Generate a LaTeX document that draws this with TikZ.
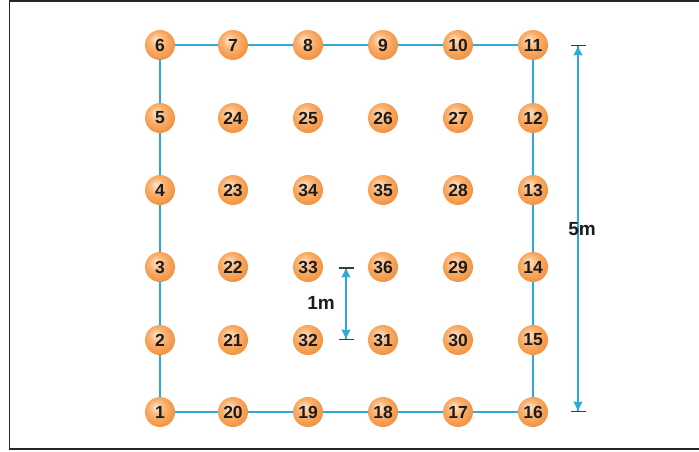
\documentclass[tikz,border=0pt]{standalone}
\usepackage{fontspec}
\setmainfont{Liberation Sans}
\usepackage{xcolor}
\usepackage{tikz}
\usetikzlibrary{arrows.meta}
\definecolor{pblue}{HTML}{2FA8DC}
\definecolor{pbody}{HTML}{1C1C1C}
\definecolor{pbar}{HTML}{3A3A3A}
\definecolor{ohi}{HTML}{FEE6CE}
\definecolor{omid}{HTML}{FBB373}
\definecolor{oedge}{HTML}{F59B4C}
\definecolor{odark}{HTML}{EC8B40}
\pgfdeclareradialshading{orb}{\pgfpoint{-7bp}{9bp}}{color(0bp)=(ohi); color(13bp)=(omid); color(24bp)=(oedge); color(32bp)=(odark); color(50bp)=(odark)}

\begin{document}
\begin{tikzpicture}[x=1pt, y=-1pt,
  spot/.style={circle, minimum size=30pt, inner sep=0pt, shading=orb,
               text=pbody, font=\bfseries\fontsize{17.5}{17.5}\selectfont},
  lbl/.style={text=pbody, font=\bfseries\fontsize{19}{19}\selectfont, inner sep=1pt},
  edge/.style={draw=pblue, line width=1.6pt},
  dim/.style={draw=pblue, line width=1.5pt,
              {Bar[width=15pt,line width=1.5pt,color=pbar]Stealth[length=9pt,width=9pt,inset=1pt]}-{Stealth[length=9pt,width=9pt,inset=1pt]Bar[width=15pt,line width=1.5pt,color=pbar]}},
  frame/.style={draw=black!85, line width=1.6pt}]
  \useasboundingbox (0,0) rectangle (699,452);
  \draw[frame] (9.5,1) rectangle (702,449);
  % --- top row
  \node[spot] (n6)  at (160,45)  {6};
  \node[spot] (n7)  at (233,45)  {7};
  \node[spot] (n8)  at (308,45)  {8};
  \node[spot] (n9)  at (383,45)  {9};
  \node[spot] (n10) at (458,45)  {10};
  \node[spot] (n11) at (533,45)  {11};
  % --- second row
  \node[spot] (n5)  at (160,118) {5};
  \node[spot] (n24) at (233,118) {24};
  \node[spot] (n25) at (308,118) {25};
  \node[spot] (n26) at (383,118) {26};
  \node[spot] (n27) at (458,118) {27};
  \node[spot] (n12) at (533,118) {12};
  % --- third row
  \node[spot] (n4)  at (160,190) {4};
  \node[spot] (n23) at (233,190) {23};
  \node[spot] (n34) at (308,190) {34};
  \node[spot] (n35) at (383,190) {35};
  \node[spot] (n28) at (458,190) {28};
  \node[spot] (n13) at (533,190) {13};
  % --- fourth row
  \node[spot] (n3)  at (160,267) {3};
  \node[spot] (n22) at (233,267) {22};
  \node[spot] (n33) at (308,267) {33};
  \node[spot] (n36) at (383,267) {36};
  \node[spot] (n29) at (458,267) {29};
  \node[spot] (n14) at (533,267) {14};
  % --- fifth row
  \node[spot] (n2)  at (160,340) {2};
  \node[spot] (n21) at (233,340) {21};
  \node[spot] (n32) at (308,340) {32};
  \node[spot] (n31) at (383,340) {31};
  \node[spot] (n30) at (458,340) {30};
  \node[spot] (n15) at (533,340) {15};
  % --- bottom row
  \node[spot] (n1)  at (160,412) {1};
  \node[spot] (n20) at (233,412) {20};
  \node[spot] (n19) at (308,412) {19};
  \node[spot] (n18) at (383,412) {18};
  \node[spot] (n17) at (458,412) {17};
  \node[spot] (n16) at (533,412) {16};
  % --- perimeter
  \draw[edge] (n1) -- (n20) -- (n19) -- (n18) -- (n17) -- (n16);
  \draw[edge] (n16) -- (n15) -- (n14) -- (n13) -- (n12) -- (n11);
  \draw[edge] (n11) -- (n10) -- (n9) -- (n8) -- (n7) -- (n6);
  \draw[edge] (n6) -- (n5) -- (n4) -- (n3) -- (n2) -- (n1);
  % --- dimensions
  \coordinate (bigA) at (578,45);
  \coordinate (bigB) at (578,412);
  \coordinate (smallA) at (346,267);
  \coordinate (smallB) at (346,340);
  \draw[dim] (bigA) -- (bigB);
  \draw[dim] (smallA) -- (smallB);
  \node[lbl] (five) at (582,229) {5m};
  \node[lbl] (one)  at (321,303) {1m};
\end{tikzpicture}
\end{document}
